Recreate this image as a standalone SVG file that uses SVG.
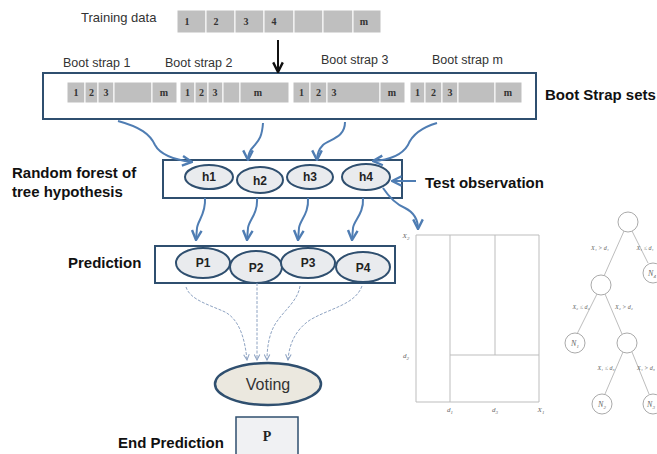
<svg xmlns="http://www.w3.org/2000/svg" width="657" height="454" viewBox="0 0 657 454">
<style>
.lbl{font-family:"Liberation Sans",Arial,sans-serif;font-size:12.5px;fill:#333}
.bold{font-family:"Liberation Sans",Arial,sans-serif;font-weight:bold;font-size:15px;fill:#111}
.cell{fill:#bfbfbf;stroke:#fff;stroke-width:1}
.num{font-family:"Liberation Serif","Times New Roman",serif;font-weight:bold;font-size:10px;fill:#333;text-anchor:middle}
.box{fill:#fff;stroke:#2f4f6f;stroke-width:2}
.ell{fill:#e9ebee;stroke:#2f4f6f;stroke-width:2}
.etx{font-family:"Liberation Sans",Arial,sans-serif;font-weight:bold;font-size:12px;fill:#222;text-anchor:middle}
.blue{fill:none;stroke:#4f7db3;stroke-width:2}
.thin{fill:none;stroke:#8ea3c2;stroke-width:1;stroke-dasharray:3,1.5}
.gl{stroke:#bdbdbd;stroke-width:1;fill:none}
.ax{font-family:"Liberation Serif","Times New Roman",serif;font-style:italic;font-size:7px;fill:#666;text-anchor:middle}
.tc{fill:#fff;stroke:#aaa;stroke-width:1}
</style>
<defs>
<marker id="ab" markerUnits="userSpaceOnUse" markerWidth="12" markerHeight="12" refX="9" refY="5" viewBox="0 0 10 10" orient="auto">
<path d="M1,1 L9,5 L1,9" fill="none" stroke="#4f7db3" stroke-width="2"/>
</marker>
<marker id="at" markerUnits="userSpaceOnUse" markerWidth="7" markerHeight="7" refX="9" refY="5" viewBox="0 0 10 10" orient="auto">
<path d="M1,1 L9,5 L1,9" fill="none" stroke="#8ea3c2" stroke-width="1.5"/>
</marker>
<marker id="ak" markerUnits="userSpaceOnUse" markerWidth="12" markerHeight="12" refX="9" refY="5" viewBox="0 0 10 10" orient="auto">
<path d="M1,1 L9,5 L1,9" fill="none" stroke="#111" stroke-width="2"/>
</marker>
</defs>

<g id="training">
<text class="lbl" x="81" y="22" style="font-size:13px">Training data</text>
<rect class="cell" x="177" y="10" width="29" height="23"/>
<rect class="cell" x="206" y="10" width="29" height="23"/>
<rect class="cell" x="235" y="10" width="29" height="23"/>
<rect class="cell" x="264" y="10" width="30" height="23"/>
<rect class="cell" x="294" y="10" width="29" height="23"/>
<rect class="cell" x="323" y="10" width="30" height="23"/>
<rect class="cell" x="353" y="10" width="28" height="23"/>
<text class="num" x="187" y="25">1</text>
<text class="num" x="216" y="25">2</text>
<text class="num" x="246" y="25">3</text>
<text class="num" x="274" y="25">4</text>
<text class="num" x="364" y="25">m</text>
</g>

<g id="bootstrap">
<rect class="box" x="43" y="73" width="493" height="46"/>
<text class="lbl" x="63" y="67">Boot strap  1</text>
<text class="lbl" x="165" y="67">Boot strap  2</text>
<text class="lbl" x="321" y="64">Boot strap  3</text>
<text class="lbl" x="432" y="64">Boot strap  m</text>
<rect class="cell" x="67" y="82" width="18" height="21"/>
<rect class="cell" x="85" y="82" width="13" height="21"/>
<rect class="cell" x="98" y="82" width="16" height="21"/>
<rect class="cell" x="114" y="82" width="38" height="21"/>
<rect class="cell" x="152" y="82" width="25" height="21"/>
<text class="num" x="76" y="96">1</text><text class="num" x="91.5" y="96">2</text><text class="num" x="106" y="96">3</text><text class="num" x="164" y="96">m</text>
<rect class="cell" x="180" y="82" width="15" height="21"/>
<rect class="cell" x="195" y="82" width="13" height="21"/>
<rect class="cell" x="208" y="82" width="15" height="21"/>
<rect class="cell" x="223" y="82" width="17" height="21"/>
<rect class="cell" x="240" y="82" width="49" height="21"/>
<text class="num" x="187.5" y="96">1</text><text class="num" x="201.5" y="96">2</text><text class="num" x="215" y="96">3</text><text class="num" x="258" y="96">m</text>
<rect class="cell" x="293" y="82" width="17" height="21"/>
<rect class="cell" x="310" y="82" width="17" height="21"/>
<rect class="cell" x="327" y="82" width="53" height="21"/>
<rect class="cell" x="380" y="82" width="25" height="21"/>
<text class="num" x="301.5" y="96">1</text><text class="num" x="318.5" y="96">2</text><text class="num" x="334" y="96">3</text><text class="num" x="392" y="96">m</text>
<rect class="cell" x="410" y="82" width="15" height="21"/>
<rect class="cell" x="425" y="82" width="17" height="21"/>
<rect class="cell" x="442" y="82" width="16" height="21"/>
<rect class="cell" x="458" y="82" width="37" height="21"/>
<rect class="cell" x="495" y="82" width="27" height="21"/>
<text class="num" x="417.5" y="96">1</text><text class="num" x="433.5" y="96">2</text><text class="num" x="450" y="96">3</text><text class="num" x="508" y="96">m</text>
<text class="bold" x="545" y="100">Boot Strap sets</text>
</g>

<g id="forest">
<rect class="box" x="163" y="160" width="239" height="38"/>
<text class="bold" x="12" y="178">Random forest of</text>
<text class="bold" x="12" y="197">tree hypothesis</text>
<ellipse class="ell" cx="209" cy="177" rx="24" ry="12"/><text class="etx" x="209" y="181">h1</text>
<ellipse class="ell" cx="260" cy="180" rx="23" ry="13"/><text class="etx" x="260" y="185">h2</text>
<ellipse class="ell" cx="310" cy="177" rx="23" ry="12"/><text class="etx" x="310" y="181">h3</text>
<ellipse class="ell" cx="366" cy="177" rx="24" ry="13"/><text class="etx" x="366" y="181">h4</text>
</g>

<g id="test">
<text class="bold" x="425" y="188">Test observation</text>
</g>

<g id="prediction">
<rect class="box" x="155" y="246" width="240" height="37"/>
<text class="bold" x="68" y="268">Prediction</text>
<ellipse class="ell" cx="203" cy="263" rx="27" ry="15"/><text class="etx" x="203" y="267">P1</text>
<ellipse class="ell" cx="256" cy="267" rx="26" ry="16"/><text class="etx" x="256" y="272">P2</text>
<ellipse class="ell" cx="308" cy="263" rx="27" ry="15"/><text class="etx" x="308" y="267">P3</text>
<ellipse class="ell" cx="363" cy="267" rx="27" ry="15"/><text class="etx" x="363" y="272">P4</text>
</g>

<g id="voting">
<ellipse cx="268" cy="384" rx="53" ry="21" fill="#ebe8df" stroke="#2f4f6f" stroke-width="2.5"/>
<text x="268" y="390" text-anchor="middle" style="font-family:'Liberation Sans',Arial,sans-serif;font-size:16px;fill:#333">Voting</text>
</g>

<g id="end">
<rect x="236" y="417" width="62" height="40" fill="#f0f1f3" stroke="#2f4f6f" stroke-width="1.5"/>
<text x="267" y="441" text-anchor="middle" style="font-family:'Liberation Serif','Times New Roman',serif;font-weight:bold;font-size:14px;fill:#222">P</text>
<text class="bold" x="118" y="448">End Prediction</text>
</g>

<g id="partition">
<line class="gl" x1="416" y1="235" x2="416" y2="402" stroke="#999"/>
<line class="gl" x1="416" y1="402" x2="539" y2="402" stroke="#999"/>
<line class="gl" x1="416" y1="235" x2="539" y2="235"/>
<line class="gl" x1="539" y1="235" x2="539" y2="402"/>
<line class="gl" x1="450" y1="235" x2="450" y2="402"/>
<line class="gl" x1="495" y1="235" x2="495" y2="355"/>
<line class="gl" x1="450" y1="355" x2="539" y2="355"/>
<text class="ax" x="406" y="238">X<tspan font-size="5" dy="1.5">2</tspan></text>
<text class="ax" x="406" y="358">d<tspan font-size="5" dy="1.5">2</tspan></text>
<text class="ax" x="450" y="412">d<tspan font-size="5" dy="1.5">1</tspan></text>
<text class="ax" x="495" y="412">d<tspan font-size="5" dy="1.5">3</tspan></text>
<text class="ax" x="541" y="412">X<tspan font-size="5" dy="1.5">1</tspan></text>
</g>

<g id="tree">
<line class="gl" x1="624" y1="231" x2="604" y2="276"/>
<line class="gl" x1="632" y1="231" x2="648" y2="263"/>
<line class="gl" x1="597" y1="294" x2="577" y2="334"/>
<line class="gl" x1="605" y1="294" x2="622" y2="334"/>
<line class="gl" x1="623" y1="352" x2="605" y2="394"/>
<line class="gl" x1="632" y1="352" x2="649" y2="394"/>
<circle class="tc" cx="628" cy="222" r="10"/>
<circle class="tc" cx="601" cy="285" r="10"/>
<circle class="tc" cx="653" cy="273" r="10"/>
<circle class="tc" cx="575" cy="343" r="10"/>
<circle class="tc" cx="627" cy="343" r="10"/>
<circle class="tc" cx="602" cy="404" r="10"/>
<circle class="tc" cx="653" cy="404" r="10"/>
<text class="ax" x="652" y="276" style="font-size:8px">N<tspan font-size="5" dy="1.5">4</tspan></text>
<text class="ax" x="575" y="346" style="font-size:8px">N<tspan font-size="5" dy="1.5">1</tspan></text>
<text class="ax" x="602" y="407" style="font-size:8px">N<tspan font-size="5" dy="1.5">2</tspan></text>
<text class="ax" x="651" y="407" style="font-size:8px">N<tspan font-size="5" dy="1.5">3</tspan></text>
<text class="ax" x="600" y="250" style="font-size:6px">X₁ &gt; d₁</text>
<text class="ax" x="645" y="250" style="font-size:6px">X₁ ≤ d₁</text>
<text class="ax" x="581" y="309" style="font-size:6px">X₂ ≤ d₂</text>
<text class="ax" x="624" y="309" style="font-size:6px">X₂ &gt; d₂</text>
<text class="ax" x="606" y="370" style="font-size:6px">X₁ ≤ d₃</text>
<text class="ax" x="646" y="370" style="font-size:6px">X₁ &gt; d₃</text>
</g>

<g id="connectors">
<line x1="278" y1="40" x2="278" y2="72" stroke="#111" stroke-width="2" marker-end="url(#ak)"/>
<path class="blue" d="M118,121 C140,127 150,134 155,145 C161,156 176,160 192,162" marker-end="url(#ab)"/>
<path class="blue" d="M263,123 C262,138 258,141 254,146 C249,151 248,155 248,160" marker-end="url(#ab)"/>
<path class="blue" d="M345,122 C345,138 330,139 323,145 C318,150 317,155 317,160" marker-end="url(#ab)"/>
<path class="blue" d="M437,123 C420,128 412,135 408,145 C402,155 390,160 373,161" marker-end="url(#ab)"/>
<path class="blue" d="M205,198 C206,214 198,220 197,228 L196,240" marker-end="url(#ab)"/>
<path class="blue" d="M257,198 C258,214 249,220 248,228 L247,240" marker-end="url(#ab)"/>
<path class="blue" d="M308,198 C309,214 300,220 299,228 L298,240" marker-end="url(#ab)"/>
<path class="blue" d="M363,198 C364,214 354,220 353,228 L352,240" marker-end="url(#ab)"/>
<path class="blue" d="M416,181 L392,181" marker-end="url(#ab)"/>
<path class="blue" d="M383,188 C391,200 398,205 405,208 C413,212 418,218 418,229" stroke-width="2.5" marker-end="url(#ab)"/>
<path class="thin" d="M186,287 C190,300 210,305 225,312 C240,320 245,340 247,360" marker-end="url(#at)"/>
<path class="thin" d="M257,283 L257,360" marker-end="url(#at)" stroke-dasharray="none"/>
<path class="thin" d="M300,286 C298,300 285,310 278,320 C270,330 267,345 267,360" marker-end="url(#at)"/>
<path class="thin" d="M362,286 C355,305 330,308 310,320 C295,330 289,345 288,360" marker-end="url(#at)"/>
</g>
</svg>
